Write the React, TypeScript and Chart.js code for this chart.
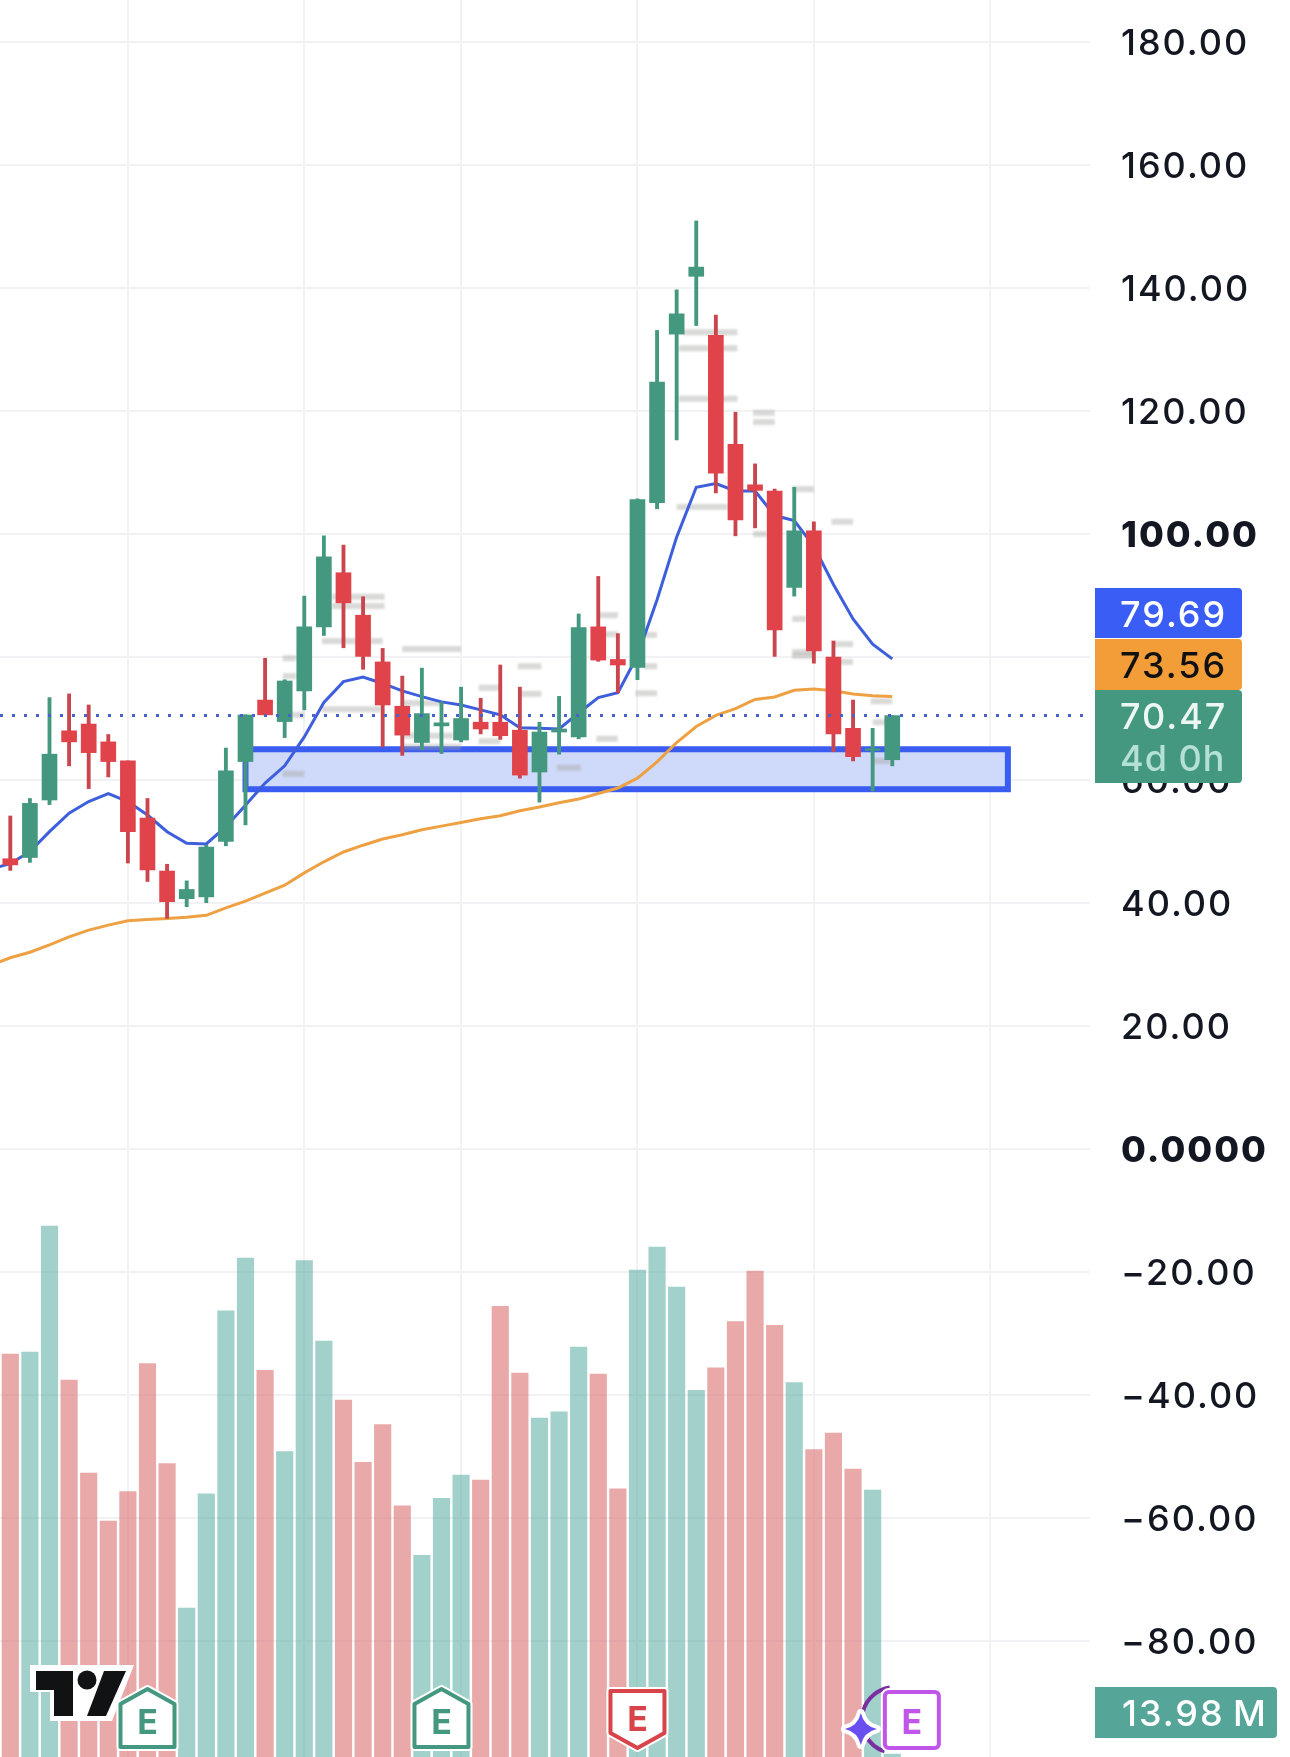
import React, { useEffect, useRef } from "react";
import { Chart, registerables } from "chart.js";

Chart.register(...registerables);

const opens = [47.2,47.4,56.75,68.0,69.1,66.2,63.1,53.8,45.2,40.7,41.0,50.0,63.0,73.0,69.5,74.5,84.9,93.7,86.8,79.2,72.0,66.1,68.8,66.5,69.4,69.4,68.1,61.3,67.8,67.0,84.9,79.6,78.3,105.1,132.5,141.9,132.3,114.6,108.0,107.0,91.3,100.5,80.0,68.4,64.8,63.3];
const highs = [54.15,57.0,73.4,74.0,72.2,67.4,63.1,57.0,46.3,43.6,49.4,65.2,70.6,79.8,76.3,89.9,99.7,98.2,89.8,81.4,76.9,78.2,72.7,75.1,73.3,78.7,75.1,69.4,73.6,87.0,93.1,83.8,105.7,133.1,139.7,150.9,135.6,119.8,111.4,107.3,107.6,102.0,82.6,73.0,68.4,70.5];
const lows = [45.3,46.6,56.0,62.3,58.6,60.5,46.5,43.5,37.5,39.4,40.05,49.3,52.7,70.6,66.9,71.4,83.5,81.5,78.0,65.4,64.0,64.9,64.3,66.2,67.5,66.6,60.3,56.4,64.2,66.7,79.3,74.2,76.3,104.1,115.3,133.9,106.7,99.7,101.0,80.1,89.9,79.0,64.6,63.1,58.2,62.3];
const closes = [46.2,56.2,64.2,66.2,64.45,63.0,51.6,45.4,40.2,42.2,49.1,61.5,70.57,70.6,76.1,84.9,96.3,88.8,80.1,72.2,67.3,70.8,69.3,70.0,68.3,67.2,60.8,67.8,68.3,84.8,79.5,78.7,105.6,124.7,135.8,143.4,109.9,102.3,107.1,84.4,100.5,81.0,67.5,63.8,65.1,70.47];
const volumes = [21.1,21.2,27.8,19.73,14.87,12.35,13.9,20.6,15.36,7.8,13.78,23.36,26.13,20.25,15.99,26.0,21.78,18.69,15.43,17.4,13.15,10.56,13.55,14.76,14.5,23.6,20.1,17.74,18.07,21.46,20.05,14.04,25.5,26.7,24.6,19.2,20.38,22.8,25.44,22.6,19.6,16.1,16.96,15.08,13.98,0.15];
const volumeUp = [0,1,1,0,0,0,0,0,0,1,1,1,1,0,1,1,1,0,0,0,0,1,1,1,0,0,0,1,1,1,0,0,1,1,1,1,0,0,0,0,1,0,0,0,1,1];
// fast / slow averages, starting one bar before the first candle
const fastMa = [45.5,46.4,48.35,51.6,54.6,56.5,57.8,56.5,54.3,51.6,49.7,49.6,52.4,55.9,59.5,62.3,67.0,72.6,76.0,76.75,75.7,74.5,73.55,72.7,72.2,71.4,70.6,68.5,68.4,68.3,70.9,73.4,74.2,80.2,89.3,99.5,107.6,108.2,107.0,107.0,103.0,102.2,98.0,91.8,86.2,82.1,79.69];
const slowMa = [29.9,31.1,32.0,33.2,34.5,35.6,36.4,37.1,37.3,37.5,37.7,38.0,39.2,40.3,41.6,42.9,44.9,46.7,48.3,49.4,50.4,51.1,51.9,52.5,53.1,53.7,54.2,55.0,55.6,56.3,56.9,57.8,58.7,60.3,62.95,66.1,68.7,70.5,71.6,73.1,73.5,74.6,74.8,74.5,74.0,73.7,73.56];

const priceTicks = [180,160,140,120,100,80,60,40,20,0,-20,-40,-60,-80];
const timeTicks = [6,15,23,32,41,50];
const boldTicks = [100,0];

const zoneFromBar = 12.0;
const zoneToBar = 50.9;
const zoneHigh = 65.0;
const zoneLow = 58.5;
const lastClose = 70.47;

// tiny grey session notes: start bar, end bar, price
const noteStart = [13.9,13.9,15.9,20,16.4,16.4,15.9,13.9,13.9,20,20,20,23.9,23.9,25.9,26,34.3,34.1,34.1,37.9,37.9,34,37.9,39.9,41.9,39.9,39.9,39.9,30,30.3,32.3,32.3,31.9,29.9,27.9,42,42.3,43.9,44,44];
const noteEnd = [14.6,14.6,18.9,23,19.1,19.1,19,15,15,22.1,22.6,23,25,25,27.1,27.1,37.1,37.1,37.1,39,39,36.6,38.6,41,43,40.6,41,41,31,31,33,33,33,31,29.1,43,43,45,44.9,44.9];
const notePrice = [79.8,76.9,71.5,81.3,89.8,88.3,82.6,70.6,61,72.5,67.2,65.4,75,66.3,78.5,74,132.8,130.2,122,119.7,118.2,104.4,100,107.3,102,86.2,80.8,80.2,86.8,83.7,83.6,78.5,74.1,66.7,62,82.1,79.2,72.8,69.4,63.1];

const earningsBars = [7,22,32,46];
const earningsKinds = ["up","up","down","future"];

const fastLabel = "79.69";
const slowLabel = "73.56";
const closeLabel = "70.47";
const countdownLabel = "4d 0h";
const volumeLabel = "13.98\u202fM";

const FONT = "Inter, 'Noto Sans', sans-serif";
const GREEN = "#459880";
const RED = "#e0434a";
const RED_WICK = "#c9464e";

function roundRect(ctx: any, x: number, y: number, w: number, h: number, r: any) {
  ctx.beginPath();
  ctx.roundRect(x, y, w, h, r);
}

function drawBadge(ctx: any, cx: number, kind: string) {
  const col = kind === "up" ? GREEN : kind === "down" ? "#d9434a" : "#c055ea";
  const l = cx - 27, r = cx + 27;
  const path = () => {
    ctx.beginPath();
    if (kind === "up") {
      ctx.moveTo(cx, 1689); ctx.lineTo(r, 1704); ctx.lineTo(r, 1747); ctx.lineTo(l, 1747); ctx.lineTo(l, 1704);
      ctx.closePath();
    } else if (kind === "down") {
      ctx.moveTo(l, 1691); ctx.lineTo(r, 1691); ctx.lineTo(r, 1733); ctx.lineTo(cx, 1748); ctx.lineTo(l, 1733);
      ctx.closePath();
    } else {
      ctx.roundRect(l, 1692, 54, 56, 4);
    }
  };
  ctx.save();
  ctx.letterSpacing = "0px";
  ctx.lineJoin = "round";
  if (kind === "future") {
    ctx.strokeStyle = "#7a2fa0";
    ctx.lineWidth = 4;
    ctx.beginPath();
    ctx.arc(cx - 17, 1720, 33, Math.PI * 0.6, Math.PI * 1.45);
    ctx.stroke();
  }
  path();
  ctx.strokeStyle = "#ffffff";
  ctx.lineWidth = 8;
  ctx.stroke();
  ctx.fillStyle = "#ffffff";
  ctx.fill();
  path();
  ctx.strokeStyle = col;
  ctx.lineWidth = 4;
  ctx.stroke();
  ctx.fillStyle = col;
  ctx.font = `700 34px ${FONT}`;
  ctx.textAlign = "center";
  ctx.textBaseline = "alphabetic";
  ctx.fillText("E", cx, kind === "down" ? 1731 : 1734);
  if (kind === "future") {
    const sx = cx - 51, sy = 1729, s = 16;
    const star = () => {
      ctx.beginPath();
      ctx.moveTo(sx, sy - s);
      ctx.quadraticCurveTo(sx + 3, sy - 3, sx + s, sy);
      ctx.quadraticCurveTo(sx + 3, sy + 3, sx, sy + s);
      ctx.quadraticCurveTo(sx - 3, sy + 3, sx - s, sy);
      ctx.quadraticCurveTo(sx - 3, sy - 3, sx, sy - s);
      ctx.closePath();
    };
    star();
    ctx.strokeStyle = "#ffffff";
    ctx.lineWidth = 8;
    ctx.stroke();
    star();
    ctx.fillStyle = "#6a4ff0";
    ctx.fill();
  }
  ctx.restore();
}

function drawLogo(ctx: any) {
  ctx.save();
  ctx.fillStyle = "#ffffff";
  ctx.beginPath();
  ctx.moveTo(30, 1665); ctx.lineTo(134, 1665); ctx.lineTo(112, 1721); ctx.lineTo(50, 1721); ctx.lineTo(50, 1692); ctx.lineTo(30, 1692);
  ctx.closePath();
  ctx.fill();
  ctx.fillStyle = "#111214";
  ctx.beginPath();
  ctx.moveTo(36, 1671); ctx.lineTo(73, 1671); ctx.lineTo(73, 1716); ctx.lineTo(54, 1716); ctx.lineTo(54, 1690); ctx.lineTo(36, 1690);
  ctx.closePath();
  ctx.fill();
  ctx.beginPath();
  ctx.arc(87, 1680, 9.5, 0, Math.PI * 2);
  ctx.fill();
  ctx.beginPath();
  ctx.moveTo(104, 1671); ctx.lineTo(126, 1671); ctx.lineTo(106, 1716); ctx.lineTo(87, 1716);
  ctx.closePath();
  ctx.fill();
  ctx.restore();
}

const spacing = {
  id: "spacing",
  beforeDraw(chart: any) {
    chart.ctx.letterSpacing = "2px";
  },
};

const underlay = {
  id: "underlay",
  beforeDatasetsDraw(chart: any) {
    const { ctx, scales } = chart;
    const x = scales.x, y = scales.y;
    const l = x.getPixelForValue(zoneFromBar), r = x.getPixelForValue(zoneToBar);
    const t = y.getPixelForValue(zoneHigh), b = y.getPixelForValue(zoneLow);
    ctx.save();
    ctx.fillStyle = "#cfd9f9";
    ctx.fillRect(l, t, r - l, b - t);
    ctx.strokeStyle = "#3a5cf0";
    ctx.lineWidth = 6;
    ctx.strokeRect(l, t, r - l, b - t);
    ctx.filter = "blur(1px)";
    ctx.fillStyle = "rgba(165,165,160,0.42)";
    noteStart.forEach((s, i) => {
      const a = x.getPixelForValue(s), e = x.getPixelForValue(noteEnd[i]);
      ctx.fillRect(a, y.getPixelForValue(notePrice[i]) - 3, e - a, 6);
    });
    ctx.restore();
  },
};

const overlay = {
  id: "overlay",
  afterDraw(chart: any) {
    const { ctx, scales } = chart;
    const y = scales.y, x = scales.x;
    ctx.save();
    const py = y.getPixelForValue(lastClose);
    ctx.strokeStyle = "#4a63c8";
    ctx.lineWidth = 3;
    ctx.setLineDash([3, 9]);
    ctx.beginPath();
    ctx.moveTo(0, py);
    ctx.lineTo(1084, py);
    ctx.stroke();
    ctx.setLineDash([]);

    ctx.fillStyle = "#3a5ef5";
    roundRect(ctx, 1095, 588, 147, 50, [0, 4, 4, 0]);
    ctx.fill();
    ctx.fillStyle = "#f29d38";
    roundRect(ctx, 1095, 639, 147, 51, [0, 4, 4, 0]);
    ctx.fill();
    ctx.fillStyle = "#459880";
    roundRect(ctx, 1095, 690, 147, 93, [0, 4, 4, 0]);
    ctx.fill();
    ctx.fillStyle = "#55a598";
    roundRect(ctx, 1095, 1687, 182, 51, [0, 4, 4, 0]);
    ctx.fill();

    ctx.font = `500 36px ${FONT}`;
    ctx.letterSpacing = "2px";
    ctx.textBaseline = "middle";
    ctx.textAlign = "left";
    ctx.fillStyle = "#ffffff";
    ctx.fillText(fastLabel, 1120, 616);
    ctx.fillStyle = "#111111";
    ctx.fillText(slowLabel, 1120, 667);
    ctx.fillStyle = "#ecf7f4";
    ctx.fillText(closeLabel, 1120, 718);
    ctx.fillStyle = "#ffffff";
    ctx.fillText(volumeLabel, 1122, 1715);
    ctx.letterSpacing = "1px";
    ctx.fillStyle = "#b5e0d5";
    ctx.fillText(countdownLabel, 1120, 760);
    ctx.letterSpacing = "0px";

    drawLogo(ctx);
    earningsBars.forEach((b, i) => drawBadge(ctx, x.getPixelForValue(b), earningsKinds[i]));
    ctx.restore();
  },
};

const candleBars = volumes.map((_, i) => i);

export default function App() {
  const ref = useRef<HTMLCanvasElement>(null);
  useEffect(() => {
    const up = (i: number) => closes[i] >= opens[i];
    const chart = new Chart(ref.current as any, {
      type: "bar",
      data: {
        datasets: [
          {
            label: "Volume",
            yAxisID: "vol",
            order: 6,
            grouped: false,
            barThickness: 16.5,
            data: candleBars.map((i) => ({ x: i, y: volumes[i] })),
            backgroundColor: candleBars.map((i) => (volumeUp[i] ? "rgba(69,161,149,0.5)" : "rgba(213,83,83,0.5)")),
          },
          {
            type: "line",
            label: "Slow MA",
            order: 5,
            data: slowMa.map((v, i) => ({ x: i - 1, y: v })),
            borderColor: "#eda143",
            borderWidth: 3,
            pointRadius: 0,
            tension: 0,
          },
          {
            type: "line",
            label: "Fast MA",
            order: 4,
            data: fastMa.map((v, i) => ({ x: i - 1, y: v })),
            borderColor: "#3e5fdc",
            borderWidth: 3,
            pointRadius: 0,
            tension: 0,
          },
          {
            label: "Wicks",
            order: 3,
            grouped: false,
            barThickness: 3.2,
            data: candleBars.map((i) => ({ x: i, y: [lows[i], highs[i]] })),
            backgroundColor: candleBars.map((i) => (up(i) ? GREEN : RED_WICK)),
            borderSkipped: false,
          },
          {
            label: "Bodies",
            order: 2,
            grouped: false,
            barThickness: 15,
            data: candleBars.map((i) => ({ x: i, y: [opens[i], closes[i]] })),
            backgroundColor: candleBars.map((i) => (up(i) ? GREEN : RED)),
            borderSkipped: false,
          },
        ] as any,
      },
      options: {
        responsive: false,
        animation: false,
        devicePixelRatio: 1,
        layout: { padding: 0 },
        plugins: { legend: { display: false }, tooltip: { enabled: false } },
        scales: {
          x: {
            type: "linear",
            offset: false,
            min: -0.5255,
            max: 55.09,
            afterBuildTicks: (s: any) => {
              s.ticks = timeTicks.map((value) => ({ value }));
            },
            afterFit: (s: any) => {
              s.height = 0;
              s.paddingLeft = 0;
              s.paddingRight = 0;
              s.paddingTop = 0;
              s.paddingBottom = 0;
            },
            ticks: { display: false },
            border: { display: false },
            grid: { color: "#f2f2f4", lineWidth: 2, drawTicks: false, offset: false },
          },
          y: {
            type: "linear",
            position: "right",
            min: -98.86,
            max: 186.83,
            afterBuildTicks: (s: any) => {
              s.ticks = priceTicks.map((value) => ({ value }));
            },
            afterFit: (s: any) => {
              s.width = 200;
              s.paddingTop = 0;
              s.paddingBottom = 0;
              s.paddingLeft = 0;
              s.paddingRight = 0;
            },
            border: { display: false },
            grid: { color: "#f2f2f4", lineWidth: 2, drawTicks: false },
            ticks: {
              autoSkip: false,
              padding: 31,
              labelOffset: 2,
              crossAlign: "near",
              color: "#131722",
              font: (c: any) => ({
                family: FONT,
                size: 36,
                weight: boldTicks.includes(c.tick?.value) ? 800 : 500,
              }),
              callback: (v: any) => {
                const n = Number(v);
                if (n === 0) return "0.0000";
                return (n < 0 ? "\u2212" : "") + Math.abs(n).toFixed(2);
              },
            },
          },
          vol: {
            type: "linear",
            display: false,
            min: 0,
            max: 92,
          },
        },
      } as any,
      plugins: [spacing, underlay, overlay],
    } as any);
    return () => chart.destroy();
  }, []);
  return (
    <canvas
      ref={ref}
      width={1290}
      height={1757}
      style={{ position: "absolute", left: 0, top: 0, width: 1290, height: 1757, display: "block", background: "#ffffff" }}
    />
  );
}
